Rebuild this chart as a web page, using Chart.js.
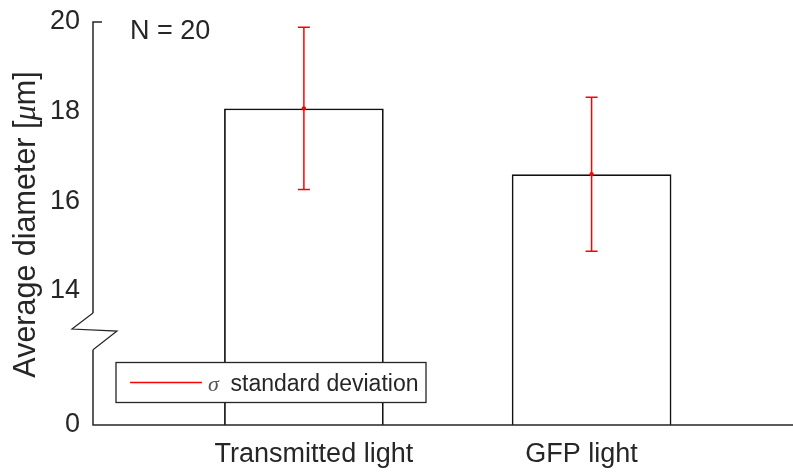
<!DOCTYPE html>
<html>
<head>
<meta charset="utf-8">
<script src="https://cdn.jsdelivr.net/npm/chart.js@4/dist/chart.umd.min.js"></script>
<style>
  html, body { margin: 0; padding: 0; background: #ffffff; }
  #c { display: block; }
</style>
</head>
<body>
<canvas id="c" width="793" height="472"></canvas>
<script>
// Average cell diameter under two illumination modes (mean ± 1 sd)
const categories   = ['Transmitted light', 'GFP light'];
const meanDiameter = [18.07, 16.60];
const stdDeviation = [1.81, 1.72];
const yTickValues  = [0, 14, 16, 18, 20];
const sampleSize   = 20;

// Broken y axis: the span between 0 and the break is squeezed so that
// zero is drawn at axis position ZERO_AT, just below the break marks.
const ZERO_AT = 11;
const BREAK_LOW = 12.68, BREAK_HIGH = 13.5;
const toAxis = v => (v === 0 ? ZERO_AT : v);

const SANS = '"Liberation Sans", Arial, Helvetica, sans-serif';
const SERIF = '"Liberation Serif", "DejaVu Serif", serif';
const INK = '#262626';

const overlay = {
  id: 'overlay',
  afterDraw(chart) {
    const ctx = chart.ctx;
    const xs = chart.scales.x, ys = chart.scales.y;
    const area = chart.chartArea;
    const ax = area.left, bottom = area.bottom;
    const yTop = ys.getPixelForValue(20);
    const yBreakHi = ys.getPixelForValue(BREAK_HIGH);
    const yBreakLo = ys.getPixelForValue(BREAK_LOW);
    ctx.save();

    // axes with the break symbol
    ctx.strokeStyle = INK;
    ctx.lineWidth = 1.5;
    ctx.beginPath();
    ctx.moveTo(ax + 9, yTop);
    ctx.lineTo(ax, yTop);
    ctx.lineTo(ax, yBreakHi);
    ctx.stroke();
    ctx.beginPath();
    ctx.moveTo(ax, yBreakLo);
    ctx.lineTo(ax, bottom);
    ctx.lineTo(area.right, bottom);
    ctx.stroke();
    ctx.lineWidth = 1.2;
    ctx.beginPath();
    ctx.moveTo(ax, yBreakHi);
    ctx.lineTo(ax - 21, yBreakHi + 16);
    ctx.lineTo(ax + 24, yBreakHi + 18);
    ctx.lineTo(ax, yBreakLo);
    ctx.stroke();

    // error bars
    ctx.strokeStyle = '#ff0000';
    ctx.fillStyle = '#ff0000';
    ctx.lineWidth = 1.5;
    meanDiameter.forEach((m, i) => {
      const px = xs.getPixelForValue(i + 1);
      const hi = ys.getPixelForValue(m + stdDeviation[i]);
      const lo = ys.getPixelForValue(m - stdDeviation[i]);
      const mid = ys.getPixelForValue(m);
      ctx.beginPath();
      ctx.moveTo(px, hi); ctx.lineTo(px, lo);
      ctx.moveTo(px - 6, hi); ctx.lineTo(px + 6, hi);
      ctx.moveTo(px - 6, lo); ctx.lineTo(px + 6, lo);
      ctx.stroke();
      ctx.beginPath();
      ctx.arc(px, mid, 2.2, 0, Math.PI * 2);
      ctx.fill();
    });

    // category labels
    ctx.fillStyle = INK;
    ctx.font = `27px ${SANS}`;
    ctx.textAlign = 'center';
    ctx.textBaseline = 'alphabetic';
    const shift = [10, -10];
    categories.forEach((c, i) => {
      ctx.fillText(c, xs.getPixelForValue(i + 1) + shift[i], bottom + 37);
    });

    // sample size note
    ctx.textAlign = 'left';
    ctx.fillText(`N = ${sampleSize}`, ax + 37, yTop + 17);

    // y-axis title with italic mu
    const parts = [
      { t: 'Average diameter [', f: `30.5px ${SANS}` },
      { t: 'μ', f: `italic 30.5px ${SERIF}` },
      { t: 'm]', f: `30.5px ${SANS}` }
    ];
    let total = 0;
    parts.forEach(p => { ctx.font = p.f; p.w = ctx.measureText(p.t).width; total += p.w; });
    ctx.save();
    ctx.translate(35, (area.top + area.bottom) / 2 + 1);
    ctx.rotate(-Math.PI / 2);
    let tx = -total / 2;
    parts.forEach(p => { ctx.font = p.f; ctx.fillText(p.t, tx, 0); tx += p.w; });
    ctx.restore();

    // legend
    const lx = ax + 23, ly = bottom - 62.5, lw = 310, lh = 40;
    ctx.fillStyle = '#ffffff';
    ctx.fillRect(lx, ly, lw, lh);
    ctx.strokeStyle = INK;
    ctx.lineWidth = 1.3;
    ctx.strokeRect(lx, ly, lw, lh);
    ctx.strokeStyle = '#ff0000';
    ctx.lineWidth = 1.3;
    ctx.beginPath();
    ctx.moveTo(lx + 14, ly + 20); ctx.lineTo(lx + 86, ly + 20);
    ctx.stroke();
    ctx.fillStyle = '#555555';
    ctx.font = `italic 22px ${SERIF}`;
    ctx.fillText('σ', lx + 92, ly + 28.5);
    ctx.fillStyle = INK;
    ctx.font = `23px ${SANS}`;
    ctx.fillText('standard deviation', lx + 114.5, ly + 28.5);

    ctx.restore();
  }
};

new Chart(document.getElementById('c'), {
  type: 'bar',
  data: {
    datasets: [{
      label: 'Average diameter',
      data: categories.map((c, i) => ({ x: i + 1, y: meanDiameter[i] })),
      backgroundColor: '#ffffff',
      borderColor: '#111111',
      borderWidth: 1.8,
      barPercentage: 0.555,
      categoryPercentage: 1
    }]
  },
  options: {
    responsive: false,
    animation: false,
    devicePixelRatio: 1,
    layout: { padding: { top: 22, right: 0, bottom: 0, left: 0 } },
    plugins: { legend: { display: false }, tooltip: { enabled: false } },
    scales: {
      x: {
        type: 'linear', min: 0.267, max: 2.70, offset: false,
        grid: { display: false, drawTicks: false }, border: { display: false },
        ticks: { display: false },
        afterBuildTicks: s => { s.ticks = categories.map((c, i) => ({ value: i + 1 })); },
        afterFit: s => { s.height = 47; s.paddingLeft = 0; s.paddingRight = 0; }
      },
      y: {
        type: 'linear', min: ZERO_AT, max: 20,
        grid: { display: false, drawTicks: false }, border: { display: false },
        afterBuildTicks: s => { s.ticks = yTickValues.map(v => ({ value: toAxis(v) })); },
        ticks: {
          padding: 13, color: INK,
          font: { family: SANS, size: 27 },
          callback: v => (v === ZERO_AT ? '0' : String(v))
        },
        afterFit: s => { s.width = 93; s.paddingTop = 0; s.paddingBottom = 0; }
      }
    }
  },
  plugins: [overlay]
});
</script>
</body>
</html>
